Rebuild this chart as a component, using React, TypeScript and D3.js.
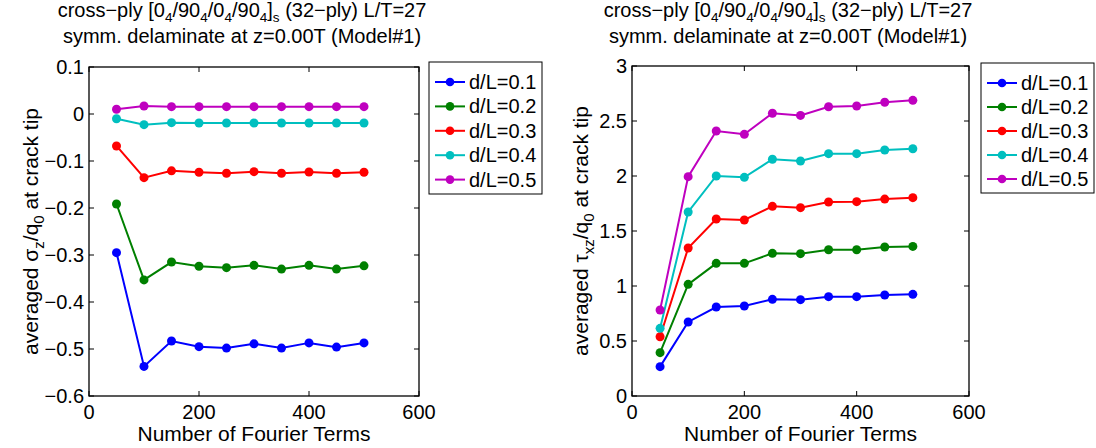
import React from "react";
import * as d3 from "d3";

const fourierTerms = [50, 100, 150, 200, 250, 300, 350, 400, 450, 500];
const seriesNames = ["d/L=0.1", "d/L=0.2", "d/L=0.3", "d/L=0.4", "d/L=0.5"];
const seriesColors = ["#0000ff", "#008000", "#ff0000", "#00bfbf", "#bf00bf"];

const sigmaD01 = [-0.295, -0.537, -0.483, -0.495, -0.498, -0.489, -0.498, -0.487, -0.496, -0.487];
const sigmaD02 = [-0.1915, -0.353, -0.315, -0.324, -0.327, -0.322, -0.33, -0.322, -0.33, -0.323];
const sigmaD03 = [-0.068, -0.1355, -0.121, -0.124, -0.126, -0.1227, -0.126, -0.1234, -0.126, -0.124];
const sigmaD04 = [-0.01, -0.0227, -0.0184, -0.0191, -0.0191, -0.0191, -0.0191, -0.0191, -0.0191, -0.0191];
const sigmaD05 = [0.01, 0.017, 0.0156, 0.0156, 0.0156, 0.0156, 0.0156, 0.0156, 0.0156, 0.0156];

const tauD01 = [0.267, 0.673, 0.809, 0.818, 0.879, 0.876, 0.903, 0.903, 0.918, 0.924];
const tauD02 = [0.394, 1.015, 1.206, 1.206, 1.297, 1.294, 1.33, 1.33, 1.355, 1.36];
const tauD03 = [0.539, 1.345, 1.609, 1.6, 1.724, 1.712, 1.764, 1.767, 1.79, 1.803];
const tauD04 = [0.615, 1.673, 2.0, 1.988, 2.152, 2.136, 2.203, 2.203, 2.236, 2.248];
const tauD05 = [0.782, 1.994, 2.409, 2.379, 2.57, 2.551, 2.63, 2.636, 2.67, 2.688];

const xTicks = [0, 200, 400, 600];
const sigmaTicks = [0.1, 0, -0.1, -0.2, -0.3, -0.4, -0.5, -0.6];
const tauTicks = [0, 0.5, 1, 1.5, 2, 2.5, 3];

const titleLine1 = [
  { t: "cross\u2212ply [0" }, { t: "4", sub: true }, { t: "/90" }, { t: "4", sub: true },
  { t: "/0" }, { t: "4", sub: true }, { t: "/90" }, { t: "4", sub: true }, { t: "]" },
  { t: "s", sub: true }, { t: " (32\u2212ply) L/T=27" },
];
const titleLine2 = "symm. delaminate at z=0.00T (Model#1)";
const sigmaLabel = [
  { t: "averaged \u03c3" }, { t: "z", sub: true }, { t: "/q" }, { t: "0", sub: true }, { t: " at crack tip" },
];
const tauLabel = [
  { t: "averaged \u03c4" }, { t: "xz", sub: true }, { t: "/q" }, { t: "0", sub: true }, { t: " at crack tip" },
];
const xLabel = "Number of Fourier Terms";

const FONT = "'Liberation Sans', Arial, Helvetica, sans-serif";

type Seg = { t: string; sub?: boolean };

function Rich({ segs, size, subSize, shift }: { segs: Seg[]; size: number; subSize: number; shift: number }) {
  const out: any[] = [];
  let cur = 0;
  segs.forEach((s, i) => {
    const target = s.sub ? shift : 0;
    const dy = target - cur;
    cur = target;
    out.push(
      <tspan key={i} dy={dy} fontSize={s.sub ? subSize : size}>
        {s.t}
      </tspan>
    );
  });
  return <>{out}</>;
}

function Panel(props: {
  x0: number; x1: number; y0: number; y1: number;
  yDomain: [number, number]; yTicks: number[]; yFmt: (v: number) => string;
  series: number[][]; yLabel: Seg[]; titleX: number; yLabelX: number;
  legX: number; legY: number; legW: number; legH: number;
}) {
  const { x0, x1, y0, y1 } = props;
  const xs = d3.scaleLinear().domain([0, 600]).range([x0, x1]);
  const ys = d3.scaleLinear().domain(props.yDomain).range([y1, y0]);
  const line = d3.line<number>().x((_, i) => xs(fourierTerms[i])).y((v) => ys(v));
  const tl = 5;
  const rowGap = (props.legH - 10) / 5;
  return (
    <g fontFamily={FONT} fill="#000">
      <text x={props.titleX} y={17} textAnchor="middle" fontSize={20}>
        <Rich segs={titleLine1} size={20} subSize={13.5} shift={5} />
      </text>
      <text x={props.titleX} y={43} textAnchor="middle" fontSize={20}>{titleLine2}</text>
      {props.series.map((vals, si) => (
        <g key={si}>
          <path d={line(vals) || ""} fill="none" stroke={seriesColors[si]} strokeWidth={2} />
          {vals.map((v, i) => (
            <circle key={i} cx={xs(fourierTerms[i])} cy={ys(v)} r={4.5} fill={seriesColors[si]} />
          ))}
        </g>
      ))}
      <rect x={x0} y={y0} width={x1 - x0} height={y1 - y0} fill="none" stroke="#000" strokeWidth={1.3} />
      {xTicks.map((t) => (
        <g key={"x" + t}>
          <line x1={xs(t)} x2={xs(t)} y1={y1} y2={y1 - tl} stroke="#000" />
          <line x1={xs(t)} x2={xs(t)} y1={y0} y2={y0 + tl} stroke="#000" />
          <text x={xs(t)} y={y1 + 23} textAnchor="middle" fontSize={20}>{t}</text>
        </g>
      ))}
      {props.yTicks.map((t) => (
        <g key={"y" + t}>
          <line x1={x0} x2={x0 + tl} y1={ys(t)} y2={ys(t)} stroke="#000" />
          <line x1={x1} x2={x1 - tl} y1={ys(t)} y2={ys(t)} stroke="#000" />
          <text x={x0 - 5} y={ys(t) + 7} textAnchor="end" fontSize={20}>{props.yFmt(t)}</text>
        </g>
      ))}
      <text x={(x0 + x1) / 2} y={441} textAnchor="middle" fontSize={21}>{xLabel}</text>
      <text
        transform={`translate(${props.yLabelX},${(y0 + y1) / 2}) rotate(-90)`}
        textAnchor="middle"
        fontSize={21}
      >
        <Rich segs={props.yLabel} size={21} subSize={15} shift={6} />
      </text>
      <rect x={props.legX} y={props.legY} width={props.legW} height={props.legH} fill="#fff" stroke="#000" strokeWidth={1} />
      {seriesNames.map((n, i) => {
        const cy = props.legY + 20 + i * rowGap;
        return (
          <g key={n}>
            <line x1={props.legX + 6} x2={props.legX + 36} y1={cy} y2={cy} stroke={seriesColors[i]} strokeWidth={2} />
            <circle cx={props.legX + 21} cy={cy} r={4.3} fill={seriesColors[i]} />
            <text x={props.legX + 40} y={cy + 7} fontSize={20}>{n}</text>
          </g>
        );
      })}
    </g>
  );
}

export default function App() {
  const fmtSigma = (v: number) => (v === 0 ? "0" : d3.format(".1f")(v).replace("-", "\u2212"));
  const fmtTau = (v: number) => String(v);
  return (
    <svg width={1096} height={448} style={{ position: "absolute", left: 0, top: 0, background: "#fff" }}>
      <rect width={1096} height={448} fill="#fff" />
      <Panel
        x0={89} x1={419} y0={67} y1={396}
        yDomain={[-0.6, 0.1]} yTicks={sigmaTicks} yFmt={fmtSigma}
        series={[sigmaD01, sigmaD02, sigmaD03, sigmaD04, sigmaD05]}
        yLabel={sigmaLabel} titleX={242} yLabelX={38}
        legX={429} legY={62} legW={113} legH={132}
      />
      <Panel
        x0={632} x1={969} y0={66} y1={396}
        yDomain={[0, 3]} yTicks={tauTicks} yFmt={fmtTau}
        series={[tauD01, tauD02, tauD03, tauD04, tauD05]}
        yLabel={tauLabel} titleX={788} yLabelX={588}
        legX={981} legY={63} legW={113} legH={130}
      />
    </svg>
  );
}
